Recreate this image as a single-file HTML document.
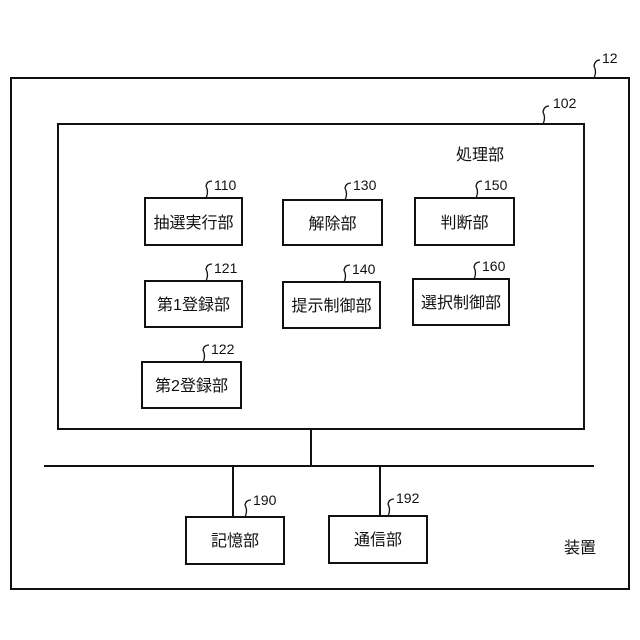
<!DOCTYPE html>
<html><head><meta charset="utf-8"><style>body{margin:0;background:#fff}svg{display:block}</style></head><body>
<svg width="640" height="640" viewBox="0 0 640 640" xmlns="http://www.w3.org/2000/svg" font-family="Liberation Sans, Noto Sans CJK JP, sans-serif">
<g fill="none" stroke="#111" stroke-width="2">
<rect x="11" y="78" width="618" height="511"/>
<rect x="58" y="124" width="526" height="305"/>
<rect x="145" y="198" width="97" height="47"/>
<rect x="283" y="200" width="99" height="45"/>
<rect x="415" y="198" width="99" height="47"/>
<rect x="145" y="281" width="97" height="46"/>
<rect x="283" y="282" width="97" height="46"/>
<rect x="413" y="279" width="96" height="46"/>
<rect x="142" y="362" width="99" height="46"/>
<rect x="186" y="517" width="98" height="47"/>
<rect x="329" y="516" width="98" height="47"/>
<line x1="44" y1="466" x2="594" y2="466"/>
<line x1="311" y1="429" x2="311" y2="466"/>
<line x1="233" y1="466" x2="233" y2="517"/>
<line x1="380" y1="466" x2="380" y2="516"/>
</g>
<g fill="none" stroke="#111" stroke-width="1.3">
<path d="M594 78 q3-6 0-12 q1-6 6-6"/>
<path d="M543 124 q3-6 0-12 q1-6 6-6"/>
<path d="M206 198 q3-6 0-12 q1-5 6-5"/>
<path d="M345 200 q3-6 0-12 q1-5 6-5"/>
<path d="M476 198 q3-6 0-12 q1-5 6-5"/>
<path d="M206 281 q3-6 0-12 q1-5 6-5"/>
<path d="M344 282 q3-6 0-12 q1-5 6-5"/>
<path d="M474 279 q3-6 0-12 q1-5 6-5"/>
<path d="M203 362 q3-6 0-12 q1-5 6-5"/>
<path d="M245 517 q3-6 0-12 q1-5 6-5"/>
<path d="M388 516 q3-6 0-12 q1-5 6-5"/>
</g>
<g font-size="14" fill="#111">
<text x="602" y="63">12</text>
<text x="553" y="108">102</text>
<text x="214" y="190">110</text>
<text x="353" y="190">130</text>
<text x="484" y="190">150</text>
<text x="214" y="273">121</text>
<text x="352" y="274">140</text>
<text x="482" y="271">160</text>
<text x="211" y="354">122</text>
<text x="253" y="505">190</text>
<text x="396" y="503">192</text>
</g>
<g font-size="16" fill="#111" text-anchor="middle">
<text x="193.5" y="228">抽選実行部</text>
<text x="332.5" y="229">解除部</text>
<text x="464.5" y="228">判断部</text>
<text x="193.5" y="310">第1登録部</text>
<text x="331.5" y="311">提示制御部</text>
<text x="461" y="308">選択制御部</text>
<text x="191.5" y="391">第2登録部</text>
<text x="235" y="546">記憶部</text>
<text x="378" y="545">通信部</text>
<text x="480" y="160">処理部</text>
<text x="580" y="553">装置</text>
</g>
</svg>
</body></html>
